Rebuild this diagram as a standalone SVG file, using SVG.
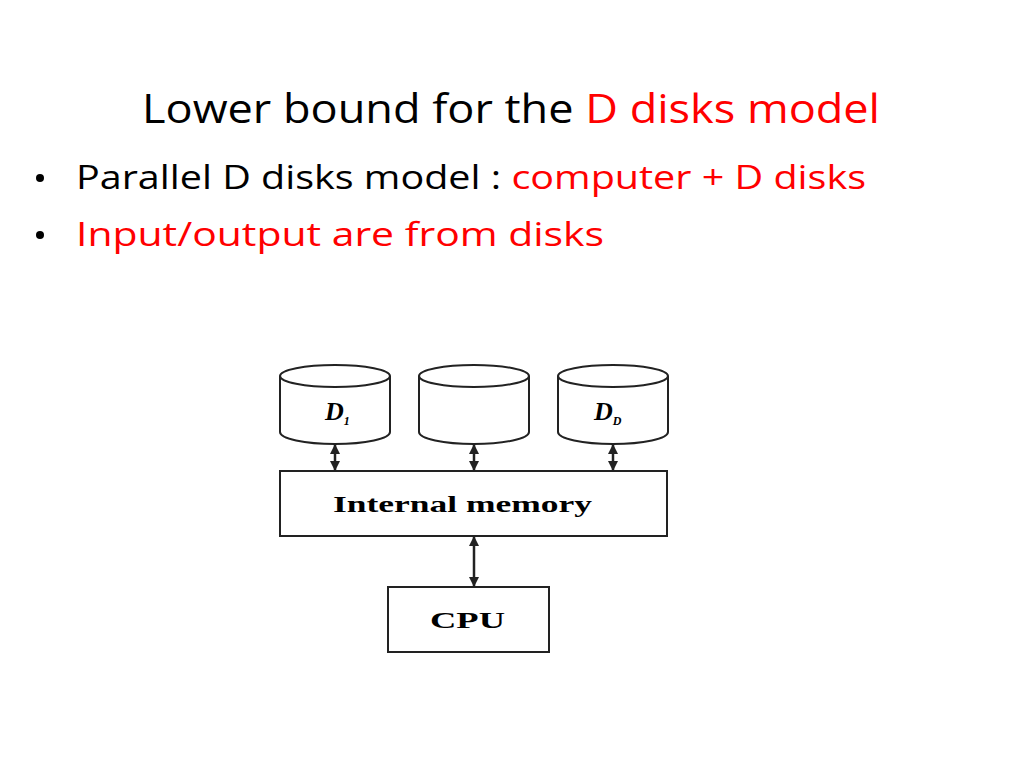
<svg xmlns="http://www.w3.org/2000/svg" width="1024" height="768" viewBox="0 0 1024 768">
<style>
.t{font-family:"Open Sans","DejaVu Sans",sans-serif;fill:#000}
.r{fill:#ff0000}
.s{fill:#fff;stroke:#222;stroke-width:2}
.l{font-family:"Liberation Serif",serif;font-weight:bold;fill:#000}
.c{stroke:#222;stroke-width:2.5;fill:none}
</style>
<defs>
<marker id="a" viewBox="0 0 10 10" refX="9" refY="5" markerWidth="4" markerHeight="4" orient="auto-start-reverse"><path d="M0,0L10,5L0,10z" fill="#222"/></marker>
</defs>
<rect width="1024" height="768" fill="#fff"/>
<text class="t" x="142" y="123" font-size="40" textLength="738" lengthAdjust="spacingAndGlyphs">Lower bound for the <tspan class="r">D disks model</tspan></text>
<circle cx="40" cy="178" r="4" fill="#000"/>
<text class="t" x="76" y="189" font-size="32" textLength="790" lengthAdjust="spacingAndGlyphs">Parallel D disks model : <tspan class="r">computer + D disks</tspan></text>
<circle cx="40" cy="235" r="4" fill="#000"/>
<text class="t r" x="76" y="246" font-size="32" textLength="528" lengthAdjust="spacingAndGlyphs">Input/output are from disks</text>
<g id="disk1"><path class="s" d="M280,376 V432 A55,12 0 0 0 390,432 V376"/><ellipse class="s" cx="335" cy="376" rx="55" ry="11"/><text class="l" x="325" y="420" font-size="26" font-style="italic">D<tspan font-size="12" dy="5">1</tspan></text></g>
<g id="disk2"><path class="s" d="M419,376 V432 A55,12 0 0 0 529,432 V376"/><ellipse class="s" cx="474" cy="376" rx="55" ry="11"/></g>
<g id="disk3"><path class="s" d="M558,376 V432 A55,12 0 0 0 668,432 V376"/><ellipse class="s" cx="613" cy="376" rx="55" ry="11"/><text class="l" x="594" y="420" font-size="26" font-style="italic">D<tspan font-size="12" dy="5">D</tspan></text></g>
<g id="memory"><rect class="s" x="280" y="471" width="387" height="65"/><text class="l" x="333" y="512" font-size="24" textLength="259" lengthAdjust="spacingAndGlyphs">Internal memory</text></g>
<g id="cpu"><rect class="s" x="388" y="587" width="161" height="65"/><text class="l" x="430" y="628" font-size="24" textLength="75" lengthAdjust="spacingAndGlyphs">CPU</text></g>
<g id="connectors">
<line class="c" x1="335" y1="445" x2="335" y2="470" marker-start="url(#a)" marker-end="url(#a)"/>
<line class="c" x1="474" y1="445" x2="474" y2="470" marker-start="url(#a)" marker-end="url(#a)"/>
<line class="c" x1="613" y1="445" x2="613" y2="470" marker-start="url(#a)" marker-end="url(#a)"/>
<line class="c" x1="474" y1="537" x2="474" y2="586" marker-start="url(#a)" marker-end="url(#a)"/>
</g>
</svg>
